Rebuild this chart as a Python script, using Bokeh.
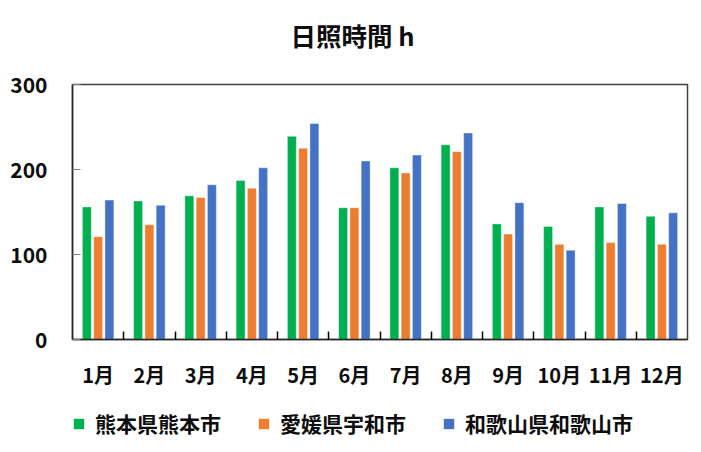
from bokeh.plotting import figure
from bokeh.models import (ColumnDataSource, Range1d, FixedTicker, Legend, LegendItem, Title)
from bokeh.layouts import column
from bokeh.transform import dodge
from bokeh.embed import file_html
from bokeh.resources import INLINE

months = ["1月", "2月", "3月", "4月", "5月", "6月", "7月", "8月", "9月", "10月", "11月", "12月"]
kumamoto = [156, 163, 169, 187, 239, 155, 202, 229, 136, 133, 156, 145]
uwajima = [121, 135, 167, 178, 225, 155, 196, 221, 124, 112, 114, 112]
wakayama = [164, 158, 182, 202, 254, 210, 217, 243, 161, 105, 160, 149]
series_names = ["熊本県熊本市", "愛媛県宇和市", "和歌山県和歌山市"]
colors = ["#00B050", "#ED7D31", "#4472C4"]
title_text = "日照時間 h"
y_ticks = [0, 100, 200, 300]

FONT = "Noto Sans CJK JP"
TXT = "#0d0d0d"

xs = [i + 0.5 for i in range(len(months))]
source = ColumnDataSource(dict(x=xs, k=kumamoto, u=uwajima, w=wakayama))
offsets = [-0.22, 0.0, 0.22]
cols = ["k", "u", "w"]

# ---------------- title strip ----------------
hd = figure(width=695, height=68, output_backend="svg", toolbar_location=None,
            x_range=Range1d(0, 1), y_range=Range1d(0, 1),
            x_axis_location=None, y_axis_location=None,
            min_border_left=72, min_border_right=8, min_border_top=0, min_border_bottom=0)
hd.outline_line_color = None
hd.xgrid.visible = False
hd.ygrid.visible = False
hd.border_fill_color = "white"
hd.background_fill_color = "white"
hd.add_layout(Title(text=title_text, align="left", offset=218, standoff=26,
                    text_font=FONT, text_font_style="bold", text_font_size="25.5px",
                    text_color=TXT), "above")

# ---------------- main chart ----------------
p = figure(width=695, height=330, output_backend="svg", toolbar_location=None,
           x_range=Range1d(0, len(months)), y_range=Range1d(0, 300),
           min_border_left=72, min_border_right=8, min_border_top=16, min_border_bottom=59)
p.background_fill_color = "white"
p.border_fill_color = "white"
p.outline_line_color = "#404040"
p.outline_line_width = 1.5
p.xgrid.visible = False
p.ygrid.visible = False

for col, off, c in zip(cols, offsets, colors):
    p.vbar(x=dodge("x", off, range=p.x_range), top=col, width=0.175, bottom=0,
           source=source, fill_color=c, line_color="white", line_alpha=0.5, line_width=0.8)

p.xaxis.ticker = FixedTicker(ticks=xs, minor_ticks=list(range(1, len(months))))
p.xaxis.major_label_overrides = {x: m for x, m in zip(xs, months)}
p.xaxis.major_tick_in = 0
p.xaxis.major_tick_out = 0
p.xaxis.minor_tick_in = 8
p.xaxis.minor_tick_out = 0
p.xaxis.minor_tick_line_color = "black"
p.xaxis.minor_tick_line_width = 1.5
p.xaxis.axis_line_color = "#262626"
p.xaxis.axis_line_width = 1.5
p.xaxis.major_label_standoff = 20
p.xaxis.major_label_text_font = FONT
p.xaxis.major_label_text_font_style = "bold"
p.xaxis.major_label_text_font_size = "20px"
p.xaxis.major_label_text_color = TXT

p.yaxis.ticker = FixedTicker(ticks=y_ticks, minor_ticks=[])
p.yaxis.major_tick_in = 8
p.yaxis.major_tick_out = 0
p.yaxis.major_tick_line_color = "#7f7f7f"
p.yaxis.major_tick_line_width = 1.2
p.yaxis.axis_line_color = "#262626"
p.yaxis.axis_line_width = 1.5
p.yaxis.major_label_standoff = 25
p.yaxis.major_label_text_font = FONT
p.yaxis.major_label_text_font_style = "bold"
p.yaxis.major_label_text_font_size = "21px"
p.yaxis.major_label_text_color = TXT

# ---------------- legend strip ----------------
lg = figure(width=695, height=50, output_backend="svg", toolbar_location=None,
            x_range=Range1d(0, len(months)), y_range=Range1d(-2, -1),
            x_axis_location=None, y_axis_location=None,
            min_border_left=72, min_border_right=8, min_border_top=10, min_border_bottom=0)
lg.outline_line_color = None
lg.xgrid.visible = False
lg.ygrid.visible = False
lg.border_fill_color = "white"
lg.background_fill_color = "white"

legend_renderers = []
for col, off, c in zip(cols, offsets, colors):
    r = lg.vbar(x=dodge("x", off, range=lg.x_range), top=col, width=0.175, bottom=0,
                source=source, fill_color=c, line_color=None, visible=False)
    legend_renderers.append(r)

items = [LegendItem(label=n, renderers=[r]) for n, r in zip(series_names, legend_renderers)]
legend = Legend(items=items, orientation="horizontal", location="top_left",
                glyph_width=13, glyph_height=13, label_standoff=10, spacing=36,
                padding=5, margin=0, border_line_color=None, background_fill_alpha=0,
                inactive_fill_alpha=0,
                label_text_font=FONT, label_text_font_style="bold",
                label_text_font_size="21px", label_text_color=TXT)
lg.add_layout(legend, "center")

open("out.html", "w").write(file_html(column(hd, p, lg), INLINE))
